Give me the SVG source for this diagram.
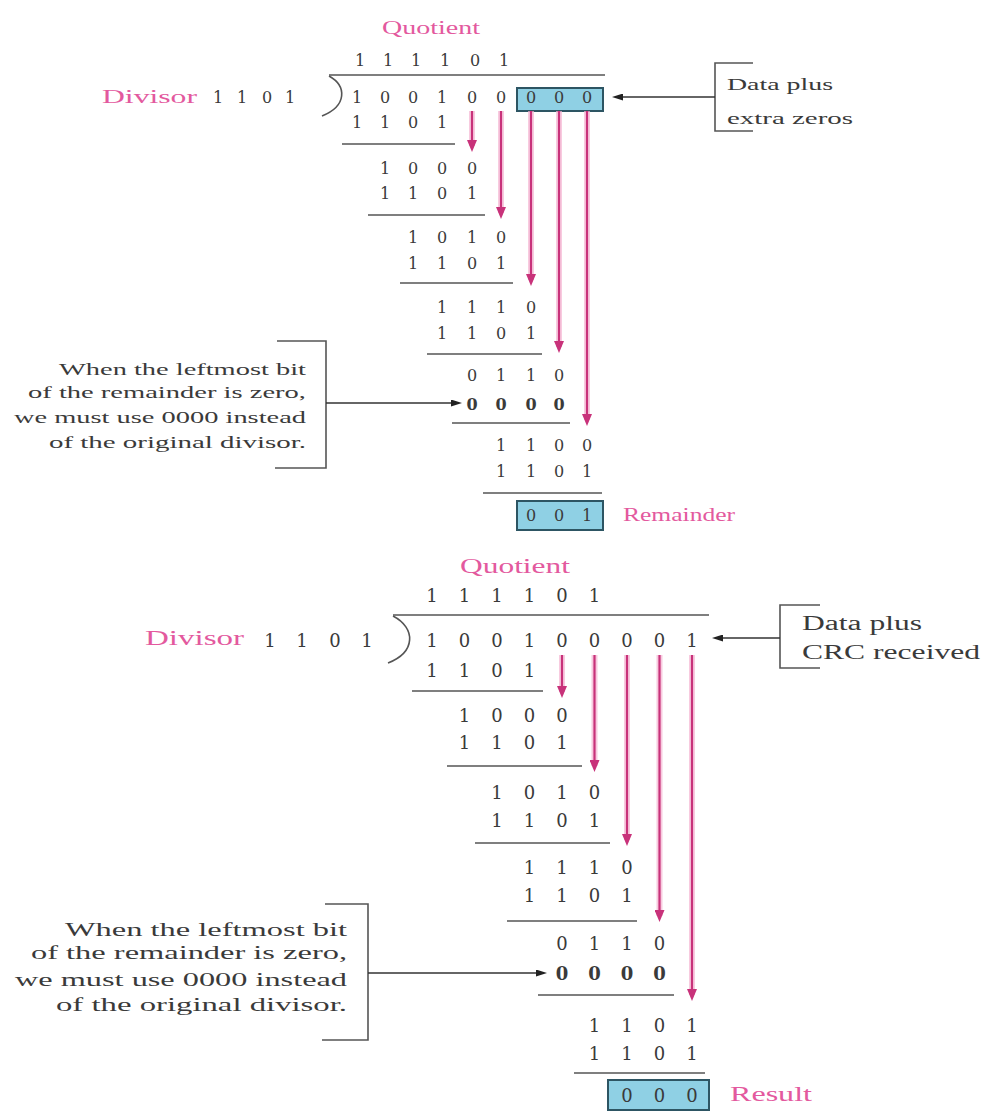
<svg xmlns="http://www.w3.org/2000/svg" width="989" height="1113" viewBox="0 0 989 1113">
<defs>
<style>
.d{font-family:"DejaVu Serif","Liberation Serif",serif;fill:#3a3a3a;text-anchor:middle}
.t{font-size:16px}
.b{font-size:18px}
.bd{font-weight:bold}
.lab{font-family:"Liberation Serif","Times New Roman",serif;fill:#e3599e}
.ann{font-family:"Liberation Serif","Times New Roman",serif;fill:#3a3a3a}
.rule{stroke:#555;stroke-width:1.6;fill:none}
.brk{stroke:#555;stroke-width:1.6;fill:none}
.halo{stroke:#f5b3d1;stroke-width:6;opacity:0.7;fill:none}
.mg{stroke:#c8327a;stroke-width:2.2;fill:none;marker-end:url(#mh)}
.bk{stroke:#333;stroke-width:1.4;fill:none;marker-end:url(#bh)}
.box{fill:#8fd0e4;stroke:#2d5563;stroke-width:2}
</style>
<marker id="mh" viewBox="0 0 12 10" refX="6" refY="5" markerWidth="12" markerHeight="10" markerUnits="userSpaceOnUse" orient="auto"><path d="M0,0 L12,5 L0,10 z" fill="#c8327a"/></marker>
<marker id="bh" viewBox="0 0 11 7" refX="5" refY="3.5" markerWidth="11" markerHeight="7" markerUnits="userSpaceOnUse" orient="auto"><path d="M0,0 L11,3.5 L0,7 z" fill="#222"/></marker>
</defs>
<rect width="989" height="1113" fill="#ffffff"/>

<!-- ===== TOP DIVISION (sender) ===== -->
<g id="top-quotient">
<text class="lab" x="382" y="34" font-size="18" textLength="98" lengthAdjust="spacingAndGlyphs">Quotient</text>
<g class="d t"><text x="360" y="66">1</text><text x="388" y="66">1</text><text x="416" y="66">1</text><text x="445" y="66">1</text><text x="475" y="66">0</text><text x="504" y="66">1</text></g>
</g>
<g id="top-divisor">
<text class="lab" x="102" y="103" font-size="18" textLength="95" lengthAdjust="spacingAndGlyphs">Divisor</text>
<g class="d t"><text x="218" y="103">1</text><text x="242" y="103">1</text><text x="267" y="103">0</text><text x="290" y="103">1</text></g>
<path class="rule" d="M329 75 H605"/>
<path class="rule" d="M329 76 C347 86 347 106 322 116"/>
</g>
<g id="top-dividend">
<rect class="box" x="517" y="88" width="86" height="23"/>
<g class="d t"><text x="357" y="103">1</text><text x="385" y="103">0</text><text x="413" y="103">0</text><text x="442" y="103">1</text><text x="472" y="103">0</text><text x="501" y="103">0</text><text x="531" y="103">0</text><text x="559" y="103">0</text><text x="587" y="103">0</text></g>
</g>
<g id="top-steps" class="d t">
<text x="357" y="128">1</text><text x="385" y="128">1</text><text x="413" y="128">0</text><text x="442" y="128">1</text>
<text x="385" y="174">1</text><text x="413" y="174">0</text><text x="442" y="174">0</text><text x="472" y="174">0</text>
<text x="385" y="199">1</text><text x="413" y="199">1</text><text x="442" y="199">0</text><text x="472" y="199">1</text>
<text x="413" y="243">1</text><text x="442" y="243">0</text><text x="472" y="243">1</text><text x="501" y="243">0</text>
<text x="413" y="269">1</text><text x="442" y="269">1</text><text x="472" y="269">0</text><text x="501" y="269">1</text>
<text x="442" y="313">1</text><text x="472" y="313">1</text><text x="501" y="313">1</text><text x="531" y="313">0</text>
<text x="442" y="339">1</text><text x="472" y="339">1</text><text x="501" y="339">0</text><text x="531" y="339">1</text>
<text x="472" y="381">0</text><text x="501" y="381">1</text><text x="531" y="381">1</text><text x="559" y="381">0</text>
<g class="bd"><text x="472" y="410">0</text><text x="501" y="410">0</text><text x="531" y="410">0</text><text x="559" y="410">0</text></g>
<text x="501" y="451">1</text><text x="531" y="451">1</text><text x="559" y="451">0</text><text x="587" y="451">0</text>
<text x="501" y="477">1</text><text x="531" y="477">1</text><text x="559" y="477">0</text><text x="587" y="477">1</text>
</g>
<g id="top-rules">
<path class="rule" d="M342 144 H455"/>
<path class="rule" d="M368 215 H485"/>
<path class="rule" d="M400 283 H513"/>
<path class="rule" d="M427 354 H542"/>
<path class="rule" d="M452 423 H570"/>
<path class="rule" d="M483 493 H602"/>
</g>
<g id="top-remainder">
<rect class="box" x="517" y="501" width="86" height="29"/>
<g class="d t"><text x="531" y="521">0</text><text x="559" y="521">0</text><text x="587" y="521">1</text></g>
<text class="lab" x="623" y="521" font-size="18" textLength="112" lengthAdjust="spacingAndGlyphs">Remainder</text>
</g>
<g id="top-note-data">
<path class="brk" d="M753 63 H715 V131 H753"/>
<text class="ann" x="727" y="90" font-size="17" textLength="106" lengthAdjust="spacingAndGlyphs">Data plus</text>
<text class="ann" x="727" y="124" font-size="17" textLength="126" lengthAdjust="spacingAndGlyphs">extra zeros</text>
</g>
<g id="top-note-zero">
<path class="brk" d="M277 341 H326 V468 H275"/>
<text class="ann" x="59" y="375" font-size="17" textLength="247" lengthAdjust="spacingAndGlyphs">When the leftmost bit</text>
<text class="ann" x="28" y="398" font-size="17" textLength="278" lengthAdjust="spacingAndGlyphs">of the remainder is zero,</text>
<text class="ann" x="14" y="423" font-size="17" textLength="292" lengthAdjust="spacingAndGlyphs">we must use 0000 instead</text>
<text class="ann" x="49" y="448" font-size="17" textLength="257" lengthAdjust="spacingAndGlyphs">of the original divisor.</text>
</g>

<!-- ===== BOTTOM DIVISION (receiver) ===== -->
<g id="bot-quotient">
<text class="lab" x="460" y="573" font-size="20" textLength="110" lengthAdjust="spacingAndGlyphs">Quotient</text>
<g class="d b"><text x="432" y="602">1</text><text x="464.5" y="602">1</text><text x="497" y="602">1</text><text x="529.5" y="602">1</text><text x="562" y="602">0</text><text x="594.5" y="602">1</text></g>
</g>
<g id="bot-divisor">
<text class="lab" x="145" y="645" font-size="20" textLength="99" lengthAdjust="spacingAndGlyphs">Divisor</text>
<g class="d b"><text x="270" y="647">1</text><text x="302" y="647">1</text><text x="335" y="647">0</text><text x="367" y="647">1</text></g>
<path class="rule" d="M393 615 H709"/>
<path class="rule" d="M393 616 C416 628 416 652 388 663"/>
</g>
<g id="bot-dividend" class="d b">
<text x="432" y="647">1</text><text x="464.5" y="647">0</text><text x="497" y="647">0</text><text x="529.5" y="647">1</text><text x="562" y="647">0</text><text x="594.5" y="647">0</text><text x="627" y="647">0</text><text x="659.5" y="647">0</text><text x="692" y="647">1</text>
</g>
<g id="bot-steps" class="d b">
<text x="432" y="677">1</text><text x="464.5" y="677">1</text><text x="497" y="677">0</text><text x="529.5" y="677">1</text>
<text x="464.5" y="722">1</text><text x="497" y="722">0</text><text x="529.5" y="722">0</text><text x="562" y="722">0</text>
<text x="464.5" y="749">1</text><text x="497" y="749">1</text><text x="529.5" y="749">0</text><text x="562" y="749">1</text>
<text x="497" y="799">1</text><text x="529.5" y="799">0</text><text x="562" y="799">1</text><text x="594.5" y="799">0</text>
<text x="497" y="827">1</text><text x="529.5" y="827">1</text><text x="562" y="827">0</text><text x="594.5" y="827">1</text>
<text x="529.5" y="874">1</text><text x="562" y="874">1</text><text x="594.5" y="874">1</text><text x="627" y="874">0</text>
<text x="529.5" y="902">1</text><text x="562" y="902">1</text><text x="594.5" y="902">0</text><text x="627" y="902">1</text>
<text x="562" y="950">0</text><text x="594.5" y="950">1</text><text x="627" y="950">1</text><text x="659.5" y="950">0</text>
<g class="bd"><text x="562" y="980">0</text><text x="594.5" y="980">0</text><text x="627" y="980">0</text><text x="659.5" y="980">0</text></g>
<text x="594.5" y="1032">1</text><text x="627" y="1032">1</text><text x="659.5" y="1032">0</text><text x="692" y="1032">1</text>
<text x="594.5" y="1060">1</text><text x="627" y="1060">1</text><text x="659.5" y="1060">0</text><text x="692" y="1060">1</text>
</g>
<g id="bot-rules">
<path class="rule" d="M412 691 H543"/>
<path class="rule" d="M447 766 H582"/>
<path class="rule" d="M475 843 H610"/>
<path class="rule" d="M507 921 H637"/>
<path class="rule" d="M538 995 H674"/>
<path class="rule" d="M574 1073 H705"/>
</g>
<g id="bot-result">
<rect class="box" x="608" y="1080" width="101" height="30"/>
<g class="d b"><text x="627" y="1102">0</text><text x="659.5" y="1102">0</text><text x="692" y="1102">0</text></g>
<text class="lab" x="730" y="1101" font-size="20" textLength="82" lengthAdjust="spacingAndGlyphs">Result</text>
</g>
<g id="bot-note-data">
<path class="brk" d="M820 605 H780 V668 H820"/>
<text class="ann" x="802" y="630" font-size="20" textLength="120" lengthAdjust="spacingAndGlyphs">Data plus</text>
<text class="ann" x="802" y="659" font-size="20" textLength="178" lengthAdjust="spacingAndGlyphs">CRC received</text>
</g>
<g id="bot-note-zero">
<path class="brk" d="M325 904 H368 V1040 H322"/>
<text class="ann" x="65" y="936" font-size="19" textLength="282" lengthAdjust="spacingAndGlyphs">When the leftmost bit</text>
<text class="ann" x="31" y="959" font-size="19" textLength="316" lengthAdjust="spacingAndGlyphs">of the remainder is zero,</text>
<text class="ann" x="15" y="986" font-size="19" textLength="332" lengthAdjust="spacingAndGlyphs">we must use 0000 instead</text>
<text class="ann" x="56" y="1011" font-size="19" textLength="291" lengthAdjust="spacingAndGlyphs">of the original divisor.</text>
</g>

<!-- ===== CONNECTORS ===== -->
<g id="connectors">
<g id="top-bringdown">
<path class="halo" d="M472 111 V146 M501 111 V213 M531 111 V280 M559 111 V347 M587 111 V420"/>
<path class="mg" d="M472 111 V146"/>
<path class="mg" d="M501 111 V213"/>
<path class="mg" d="M531 111 V280"/>
<path class="mg" d="M559 111 V347"/>
<path class="mg" d="M587 111 V420"/>
</g>
<g id="bot-bringdown">
<path class="halo" d="M562 655 V692 M594.5 655 V766 M627 655 V840 M659.5 655 V916 M692 655 V995"/>
<path class="mg" d="M562 655 V692"/>
<path class="mg" d="M594.5 655 V766"/>
<path class="mg" d="M627 655 V840"/>
<path class="mg" d="M659.5 655 V916"/>
<path class="mg" d="M692 655 V995"/>
</g>
<path class="bk" d="M715 97 H618"/>
<path class="bk" d="M326 403 H456"/>
<path class="bk" d="M780 638 H718"/>
<path class="bk" d="M368 973 H541"/>
</g>
</svg>
